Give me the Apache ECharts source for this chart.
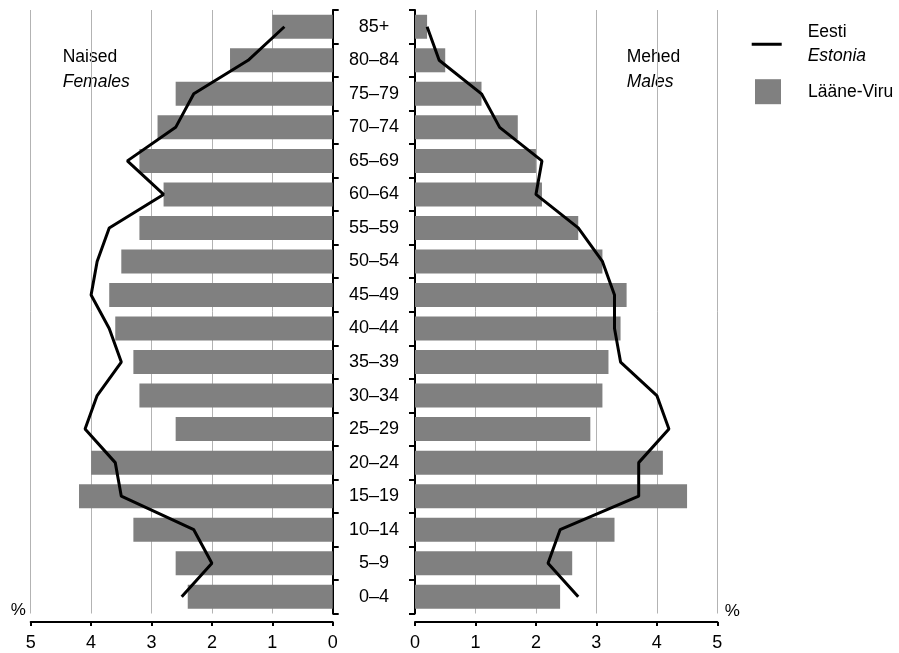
<!DOCTYPE html>
<html>
<head>
<meta charset="utf-8">
<script src="https://cdn.jsdelivr.net/npm/echarts@6/dist/echarts.min.js"></script>
<style>
html,body{margin:0;padding:0;background:#fff;}
#chart{width:899px;height:653px;}
</style>
</head>
<body>
<div id="chart"></div>
<script>
// Age groups, bottom to top
var categories = ['0–4','5–9','10–14','15–19','20–24','25–29','30–34','35–39','40–44','45–49','50–54','55–59','60–64','65–69','70–74','75–79','80–84','85+'];
// Lääne-Viru (bars), % of population
var femalesLaaneViru = [2.4, 2.6, 3.3, 4.2, 4.0, 2.6, 3.2, 3.3, 3.6, 3.7, 3.5, 3.2, 2.8, 3.2, 2.9, 2.6, 1.7, 1.0];
var malesLaaneViru   = [2.4, 2.6, 3.3, 4.5, 4.1, 2.9, 3.1, 3.2, 3.4, 3.5, 3.1, 2.7, 2.1, 2.0, 1.7, 1.1, 0.5, 0.2];
// Eesti / Estonia (line), % of population
var femalesEstonia   = [2.5, 2.0, 2.3, 3.5, 3.6, 4.1, 3.9, 3.5, 3.7, 4.0, 3.9, 3.7, 2.8, 3.4, 2.6, 2.3, 1.4, 0.8];
var malesEstonia     = [2.7, 2.2, 2.4, 3.7, 3.7, 4.2, 4.0, 3.4, 3.3, 3.3, 3.1, 2.7, 2.0, 2.1, 1.4, 1.1, 0.4, 0.2];
// Value axis ticks
var xMin = 0, xMax = 5, xStep = 1;

var FONT = '"Liberation Sans", Arial, Helvetica, sans-serif';
var BAR = '#808080';
var GRIDC = '#b3b3b3';

var chart = echarts.init(document.getElementById('chart'), null, {renderer: 'canvas'});

function xAxisCfg(gi, inverse) {
  return {
    gridIndex: gi, type: 'value', min: xMin, max: xMax, interval: xStep, inverse: inverse,
    offset: 8.5,
    axisLine: {show: true, lineStyle: {color: '#000', width: 2}},
    axisTick: {show: true, length: 4, lineStyle: {color: '#000', width: 2}},
    axisLabel: {fontFamily: FONT, fontSize: 18, color: '#000', margin: 12},
    splitLine: {show: true, lineStyle: {color: GRIDC, width: 1}}
  };
}

var option = {
  backgroundColor: '#fff',
  animation: false,
  textStyle: {fontFamily: FONT},
  grid: [
    {left: 30.7, top: 10, width: 302, height: 603.5, containLabel: false},
    {left: 415, top: 10, width: 302.3, height: 603.5, containLabel: false}
  ],
  xAxis: [xAxisCfg(0, true), xAxisCfg(1, false)],
  yAxis: [
    {
      gridIndex: 0, type: 'category', data: categories, position: 'right', offset: 6.3,
      axisLine: {show: true, lineStyle: {color: '#000', width: 2}},
      axisTick: {show: true, length: 6, interval: 0, lineStyle: {color: '#000', width: 2}},
      axisLabel: {show: false},
      splitLine: {show: false}
    },
    {
      gridIndex: 1, type: 'category', data: categories, position: 'left', offset: 6,
      axisLine: {show: true, lineStyle: {color: '#000', width: 2}},
      axisTick: {show: true, length: 6, interval: 0, lineStyle: {color: '#000', width: 2}},
      axisLabel: {show: true, interval: 0, align: 'center', margin: 35, fontFamily: FONT, fontSize: 18, color: '#000'},
      splitLine: {show: false}
    }
  ],
  legend: [
    {
      data: [{name: 'Eesti', icon: 'rect'}],
      left: 751.7, top: 23.5, padding: 0, orient: 'vertical',
      itemWidth: 30, itemHeight: 3, selectedMode: false,
      formatter: function () { return '{a|Eesti}\n{b|Estonia}'; },
      textStyle: {
        fontFamily: FONT, fontSize: 17.5, color: '#000',
        rich: {
          a: {fontFamily: FONT, fontSize: 17.5, color: '#000', lineHeight: 23.5, padding: [0, 0, 0, 21]},
          b: {fontFamily: FONT, fontSize: 17.5, color: '#000', lineHeight: 23.5, fontStyle: 'italic', padding: [0, 0, 0, 21]}
        }
      }
    },
    {
      data: [{name: 'Lääne-Viru', icon: 'rect'}],
      left: 755, top: 79.2, padding: 0, orient: 'vertical',
      itemWidth: 26, itemHeight: 25, selectedMode: false,
      formatter: function (n) { return '{a|' + n + '}'; },
      textStyle: {
        fontFamily: FONT, fontSize: 17.5, color: '#000',
        rich: {
          a: {fontFamily: FONT, fontSize: 17.5, color: '#000', padding: [0, 0, 0, 22]}
        }
      }
    }
  ],
  graphic: [
    {
      type: 'text', left: 62.7, top: 48.5, silent: true,
      style: {
        text: '{a|Naised}\n{b|Females}',
        rich: {
          a: {fontFamily: FONT, fontSize: 17.5, fill: '#000', lineHeight: 24.5},
          b: {fontFamily: FONT, fontSize: 17.5, fill: '#000', lineHeight: 24.5, fontStyle: 'italic'}
        }
      }
    },
    {
      type: 'text', left: 626.7, top: 48.5, silent: true,
      style: {
        text: '{a|Mehed}\n{b|Males}',
        rich: {
          a: {fontFamily: FONT, fontSize: 17.5, fill: '#000', lineHeight: 24.5},
          b: {fontFamily: FONT, fontSize: 17.5, fill: '#000', lineHeight: 24.5, fontStyle: 'italic'}
        }
      }
    },
    {
      type: 'text', x: 18.3, y: 610.5, silent: true,
      style: {text: '%', fontFamily: FONT, fontSize: 17, fill: '#000', align: 'center', verticalAlign: 'middle'}
    },
    {
      type: 'text', x: 732.3, y: 611, silent: true,
      style: {text: '%', fontFamily: FONT, fontSize: 17, fill: '#000', align: 'center', verticalAlign: 'middle'}
    }
  ],
  series: [
    {
      name: 'Lääne-Viru', type: 'bar', xAxisIndex: 0, yAxisIndex: 0,
      data: femalesLaaneViru, barWidth: 24, itemStyle: {color: BAR}, silent: true, z: 2
    },
    {
      name: 'Lääne-Viru', type: 'bar', xAxisIndex: 1, yAxisIndex: 1,
      data: malesLaaneViru, barWidth: 24, itemStyle: {color: BAR}, silent: true, z: 2
    },
    {
      name: 'Eesti', type: 'line', xAxisIndex: 0, yAxisIndex: 0,
      data: femalesEstonia, symbol: 'none', showSymbol: false, color: '#000',
      lineStyle: {color: '#000', width: 3}, silent: true, z: 3
    },
    {
      name: 'Eesti', type: 'line', xAxisIndex: 1, yAxisIndex: 1,
      data: malesEstonia, symbol: 'none', showSymbol: false, color: '#000',
      lineStyle: {color: '#000', width: 3}, silent: true, z: 3
    }
  ]
};
chart.setOption(option);
</script>
</body>
</html>
